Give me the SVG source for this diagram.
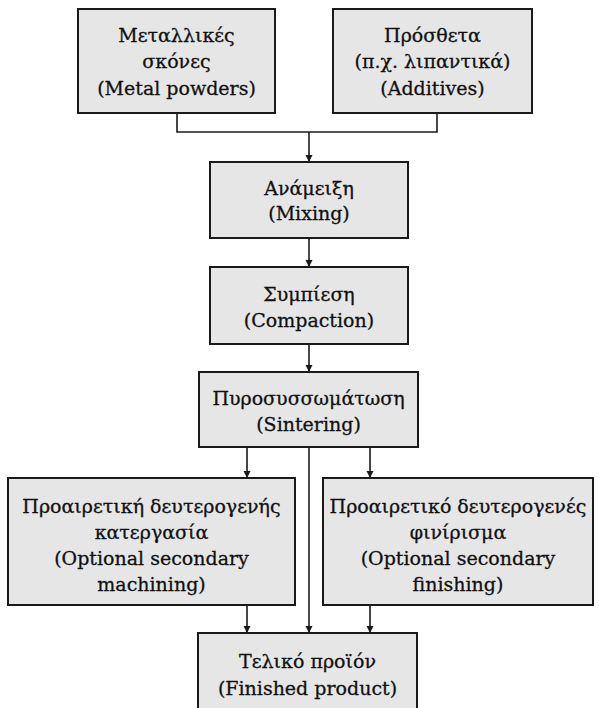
<svg xmlns="http://www.w3.org/2000/svg" width="599" height="708" viewBox="0 0 599 708">
  <style>
    .box { fill: #e6e6e7; stroke: #1a1a1a; stroke-width: 2; }
    .lbl { font-family: "DejaVu Serif", "Liberation Serif", serif; font-size: 19px; fill: #111111; stroke: #111111; stroke-width: 0.3; text-anchor: middle; }
    .wire { fill: none; stroke: #1a1a1a; stroke-width: 1.6; }
    .arrow { fill: none; stroke: #1a1a1a; stroke-width: 1.6; marker-end: url(#head); }
  </style>
  <defs>
    <marker id="head" viewBox="0 0 10 10" refX="10" refY="5" markerWidth="7" markerHeight="9" markerUnits="userSpaceOnUse" orient="auto">
      <path d="M0,0 L10,5 L0,10 Z" fill="#1a1a1a"/>
    </marker>
  </defs>
  <rect width="599" height="708" fill="#ffffff"/>

  <g id="connectors">
    <path class="wire" d="M177,113 V132 H437 V113"/>
    <path class="arrow" d="M309,132 V162"/>
    <path class="arrow" d="M309,238 V267"/>
    <path class="arrow" d="M309,344 V372"/>
    <path class="arrow" d="M247,447 V478"/>
    <path class="arrow" d="M370,447 V478"/>
    <path class="arrow" d="M309,447 V633"/>
    <path class="arrow" d="M247,605 V633"/>
    <path class="arrow" d="M370,605 V633"/>
  </g>

  <g id="metal-powders">
    <rect class="box" x="78" y="9" width="197" height="104"/>
    <text class="lbl" x="176.5" y="42">Μεταλλικές</text>
    <text class="lbl" x="176.5" y="68">σκόνες</text>
    <text class="lbl" x="176.5" y="95">(Metal powders)</text>
  </g>

  <g id="additives">
    <rect class="box" x="333" y="9" width="199" height="104"/>
    <text class="lbl" x="432.5" y="42">Πρόσθετα</text>
    <text class="lbl" x="432.5" y="68">(π.χ. λιπαντικά)</text>
    <text class="lbl" x="432.5" y="95">(Additives)</text>
  </g>

  <g id="mixing">
    <rect class="box" x="210" y="162" width="198" height="76"/>
    <text class="lbl" x="309" y="195">Ανάμειξη</text>
    <text class="lbl" x="309" y="220">(Mixing)</text>
  </g>

  <g id="compaction">
    <rect class="box" x="210" y="267" width="198" height="77"/>
    <text class="lbl" x="309" y="301">Συμπίεση</text>
    <text class="lbl" x="309" y="327">(Compaction)</text>
  </g>

  <g id="sintering">
    <rect class="box" x="199" y="372" width="219" height="75"/>
    <text class="lbl" x="308.5" y="405">Πυροσυσσωμάτωση</text>
    <text class="lbl" x="308.5" y="431">(Sintering)</text>
  </g>

  <g id="secondary-machining">
    <rect class="box" x="8" y="478" width="287" height="127"/>
    <text class="lbl" x="151.5" y="513">Προαιρετική δευτερογενής</text>
    <text class="lbl" x="151.5" y="539">κατεργασία</text>
    <text class="lbl" x="151.5" y="565">(Optional secondary</text>
    <text class="lbl" x="151.5" y="591">machining)</text>
  </g>

  <g id="secondary-finishing">
    <rect class="box" x="323" y="478" width="270" height="127"/>
    <text class="lbl" x="458" y="513">Προαιρετικό δευτερογενές</text>
    <text class="lbl" x="458" y="539">φινίρισμα</text>
    <text class="lbl" x="458" y="565">(Optional secondary</text>
    <text class="lbl" x="458" y="591">finishing)</text>
  </g>

  <g id="finished-product">
    <rect class="box" x="198" y="633" width="219" height="80"/>
    <text class="lbl" x="307.5" y="668">Τελικό προϊόν</text>
    <text class="lbl" x="307.5" y="695">(Finished product)</text>
  </g>
</svg>
